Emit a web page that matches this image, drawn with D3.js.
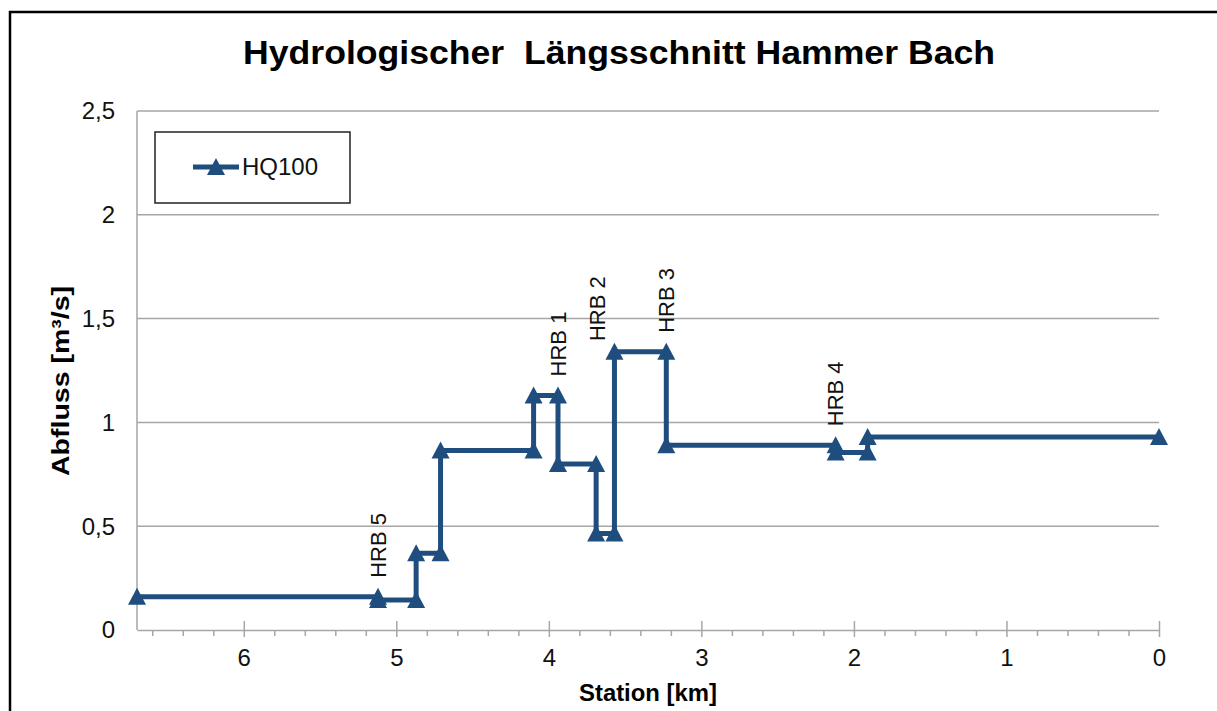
<!DOCTYPE html>
<html>
<head>
<meta charset="utf-8">
<script src="https://cdn.jsdelivr.net/npm/d3@7"></script>
<style>
  body { margin: 0; background: #fff; }
  svg { display: block; font-family: "Liberation Sans", Arial, sans-serif; }
</style>
</head>
<body>
<div id="chart"></div>
<script>
// Stationierung (km) und Abfluss HQ100 (m³/s), Treppenverlauf von oben nach unten
const stationKm = [6.70, 5.12, 5.12, 4.87, 4.87, 4.71, 4.71, 4.10, 4.10, 3.94, 3.94,
                   3.69, 3.69, 3.57, 3.57, 3.23, 3.23, 2.12, 2.12, 1.91, 1.91, 0.00];
const hq100 = [0.16, 0.16, 0.145, 0.145, 0.37, 0.37, 0.865, 0.865, 1.13, 1.13, 0.80,
               0.80, 0.465, 0.465, 1.34, 1.34, 0.89, 0.89, 0.855, 0.855, 0.93, 0.93];

// Rückhaltebecken-Beschriftungen
const hrbNames = ["HRB 5", "HRB 1", "HRB 2", "HRB 3", "HRB 4"];
const hrbKm    = [5.12, 3.94, 3.68, 3.23, 2.12];
const hrbQ     = [0.16, 1.13, 1.30, 1.34, 0.89];

const xTicks = [6, 5, 4, 3, 2, 1, 0];
const yTicks = [0, 0.5, 1, 1.5, 2, 2.5];

const W = 1217, H = 711;
const M = { top: 111, right: 58, bottom: 81, left: 137 };
const LINE = "#1f4e7e";
const GRID = "#a6a6a6";

const fmt = d3.formatLocale({ decimal: ",", thousands: ".", grouping: [3], currency: ["", " €"] }).format("~g");

const svg = d3.select("#chart").append("svg")
  .attr("width", W).attr("height", H)
  .attr("viewBox", `0 0 ${W} ${H}`);

// äußerer Rahmen
svg.append("rect")
  .attr("x", 10).attr("y", 12)
  .attr("width", W + 20).attr("height", H + 20)
  .attr("fill", "none").attr("stroke", "#000").attr("stroke-width", 2.5);

const x = d3.scaleLinear().domain([6.7, 0]).range([M.left, W - M.right]);
const y = d3.scaleLinear().domain([0, 2.5]).range([H - M.bottom, M.top]);

// Titel
svg.append("text")
  .attr("x", 619).attr("y", 64)
  .attr("text-anchor", "middle")
  .attr("font-size", 33).attr("font-weight", "bold")
  .attr("textLength", 752).attr("lengthAdjust", "spacingAndGlyphs")
  .style("white-space", "pre")
  .text("Hydrologischer  Längsschnitt Hammer Bach");

// Gitterlinien
svg.append("g")
  .selectAll("line")
  .data(yTicks.filter(d => d > 0))
  .join("line")
  .attr("x1", x.range()[0]).attr("x2", x.range()[1])
  .attr("y1", d => y(d)).attr("y2", d => y(d))
  .attr("stroke", GRID).attr("stroke-width", 1.5);

// y-Achse
svg.append("line")
  .attr("x1", M.left).attr("x2", M.left)
  .attr("y1", y(2.5)).attr("y2", y(0))
  .attr("stroke", GRID).attr("stroke-width", 1.5);

svg.append("g")
  .selectAll("text")
  .data(yTicks)
  .join("text")
  .attr("x", 115).attr("y", d => y(d))
  .attr("dy", "0.35em")
  .attr("text-anchor", "end")
  .attr("font-size", 24).attr("fill", "#111")
  .text(d => fmt(d));

// x-Achse: Nebenstriche
const minor = d3.range(1, 34).map(i => i / 5).filter(d => Math.abs(d - Math.round(d)) > 1e-6);
svg.append("g")
  .attr("transform", `translate(0,${y(0)})`)
  .call(d3.axisBottom(x).tickValues(minor).tickSize(6).tickFormat(""))
  .call(g => g.select(".domain").remove())
  .call(g => g.selectAll("line").attr("stroke", GRID).attr("stroke-width", 1.5));

// x-Achse: Hauptstriche + Beschriftung
const xAxisG = svg.append("g")
  .attr("transform", `translate(0,${y(0)})`)
  .call(d3.axisBottom(x).tickValues(xTicks).tickSize(7).tickPadding(12).tickSizeOuter(0).tickFormat(fmt));
xAxisG.select(".domain").attr("stroke", GRID).attr("stroke-width", 1.5);
xAxisG.selectAll(".tick line").attr("y1", -9).attr("stroke", GRID).attr("stroke-width", 1.5);
xAxisG.selectAll(".tick text")
  .attr("font-size", 24).attr("font-family", "Liberation Sans, Arial, sans-serif").attr("fill", "#111");

// Achsentitel
svg.append("text")
  .attr("x", (M.left + W - M.right) / 2).attr("y", 701)
  .attr("text-anchor", "middle")
  .attr("font-size", 23).attr("font-weight", "bold")
  .attr("textLength", 138).attr("lengthAdjust", "spacingAndGlyphs")
  .text("Station [km]");

svg.append("text")
  .attr("transform", "translate(61,381) rotate(-90)")
  .attr("dy", "0.35em")
  .attr("text-anchor", "middle")
  .attr("font-size", 24).attr("font-weight", "bold")
  .attr("textLength", 190).attr("lengthAdjust", "spacingAndGlyphs")
  .text("Abfluss [m³/s]");

// Linie
const pts = stationKm.map((km, i) => [km, hq100[i]]);
const line = d3.line().x(d => x(d[0])).y(d => y(d[1]));

svg.append("path")
  .datum(pts)
  .attr("d", line)
  .attr("fill", "none")
  .attr("stroke", LINE)
  .attr("stroke-width", 5)
  .attr("stroke-linejoin", "miter");

const tri = "M0,-9L9,8L-9,8Z";
svg.append("g")
  .selectAll("path")
  .data(pts)
  .join("path")
  .attr("transform", d => `translate(${x(d[0])},${y(d[1])})`)
  .attr("d", tri)
  .attr("fill", LINE);

// HRB-Beschriftungen
svg.append("g")
  .selectAll("text")
  .data(hrbNames)
  .join("text")
  .attr("transform", (d, i) => `translate(${x(hrbKm[i])},${y(hrbQ[i]) - 19}) rotate(-90)`)
  .attr("dy", "0.35em")
  .attr("font-size", 22).attr("fill", "#111")
  .text(d => d);

// Legende
const leg = svg.append("g").attr("transform", "translate(155,132)");
leg.append("rect")
  .attr("width", 195).attr("height", 71)
  .attr("fill", "#fff").attr("stroke", "#222").attr("stroke-width", 1.5);
leg.append("line")
  .attr("x1", 38).attr("x2", 84).attr("y1", 35).attr("y2", 35)
  .attr("stroke", LINE).attr("stroke-width", 5);
leg.append("path")
  .attr("transform", "translate(61,35)")
  .attr("d", tri).attr("fill", LINE);
leg.append("text")
  .attr("x", 87).attr("y", 35).attr("dy", "0.35em")
  .attr("font-size", 24).attr("fill", "#111")
  .text("HQ100");
</script>
</body>
</html>
